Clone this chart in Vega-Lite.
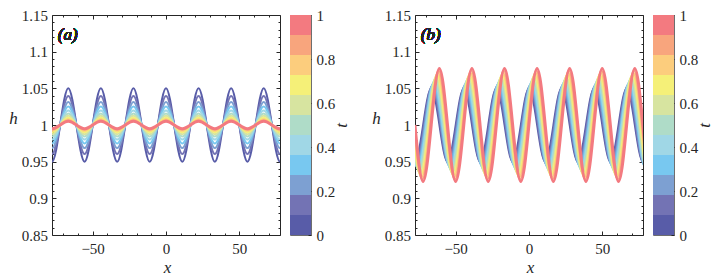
{
  "$schema": "https://vega.github.io/schema/vega-lite/v6.json",
  "padding": {"left": 8, "top": 7, "right": 5, "bottom": 5},
  "config": {
    "font": "Liberation Serif",
    "view": {"stroke": null},
    "axis": {
      "labelFont": "Liberation Serif", "labelFontSize": 15, "labelColor": "#262626",
      "titleFont": "Liberation Serif", "titleFontStyle": "italic", "titleFontWeight": "normal",
      "titleFontSize": 17, "titleColor": "#262626",
      "tickColor": "#262626", "tickWidth": 1, "domainColor": "#262626", "domainWidth": 1,
      "grid": false, "zindex": 1, "labelOverlap": false, "labelFlush": false
    }
  },
  "datasets": {
    "a": [
      {"t":0,"x":-83.25,"h":1},{"t":0,"x":-77.7,"h":0.95},{"t":0,"x":-72.15,"h":1},{"t":0,"x":-66.6,"h":1.05},{"t":0,"x":-61.05,"h":1},{"t":0,"x":-55.5,"h":0.95},{"t":0,"x":-49.95,"h":1},{"t":0,"x":-44.4,"h":1.05},{"t":0,"x":-38.85,"h":1},{"t":0,"x":-33.3,"h":0.95},{"t":0,"x":-27.75,"h":1},{"t":0,"x":-22.2,"h":1.05},{"t":0,"x":-16.65,"h":1},{"t":0,"x":-11.1,"h":0.95},{"t":0,"x":-5.55,"h":1},{"t":0,"x":0,"h":1.05},{"t":0,"x":5.55,"h":1},{"t":0,"x":11.1,"h":0.95},{"t":0,"x":16.65,"h":1},{"t":0,"x":22.2,"h":1.05},{"t":0,"x":27.75,"h":1},{"t":0,"x":33.3,"h":0.95},{"t":0,"x":38.85,"h":1},{"t":0,"x":44.4,"h":1.05},{"t":0,"x":49.95,"h":1},{"t":0,"x":55.5,"h":0.95},{"t":0,"x":61.05,"h":1},{"t":0,"x":66.6,"h":1.05},{"t":0,"x":72.15,"h":1},{"t":0,"x":77.7,"h":0.95},{"t":0,"x":83.25,"h":1},
      {"t":0.1,"x":-83.25,"h":1},{"t":0.1,"x":-77.7,"h":0.9603},{"t":0.1,"x":-72.15,"h":1},{"t":0.1,"x":-66.6,"h":1.0397},{"t":0.1,"x":-61.05,"h":1},{"t":0.1,"x":-55.5,"h":0.9603},{"t":0.1,"x":-49.95,"h":1},{"t":0.1,"x":-44.4,"h":1.0397},{"t":0.1,"x":-38.85,"h":1},{"t":0.1,"x":-33.3,"h":0.9603},{"t":0.1,"x":-27.75,"h":1},{"t":0.1,"x":-22.2,"h":1.0397},{"t":0.1,"x":-16.65,"h":1},{"t":0.1,"x":-11.1,"h":0.9603},{"t":0.1,"x":-5.55,"h":1},{"t":0.1,"x":0,"h":1.0397},{"t":0.1,"x":5.55,"h":1},{"t":0.1,"x":11.1,"h":0.9603},{"t":0.1,"x":16.65,"h":1},{"t":0.1,"x":22.2,"h":1.0397},{"t":0.1,"x":27.75,"h":1},{"t":0.1,"x":33.3,"h":0.9603},{"t":0.1,"x":38.85,"h":1},{"t":0.1,"x":44.4,"h":1.0397},{"t":0.1,"x":49.95,"h":1},{"t":0.1,"x":55.5,"h":0.9603},{"t":0.1,"x":61.05,"h":1},{"t":0.1,"x":66.6,"h":1.0397},{"t":0.1,"x":72.15,"h":1},{"t":0.1,"x":77.7,"h":0.9603},{"t":0.1,"x":83.25,"h":1},
      {"t":0.2,"x":-83.25,"h":1},{"t":0.2,"x":-77.7,"h":0.9685},{"t":0.2,"x":-72.15,"h":1},{"t":0.2,"x":-66.6,"h":1.0315},{"t":0.2,"x":-61.05,"h":1},{"t":0.2,"x":-55.5,"h":0.9685},{"t":0.2,"x":-49.95,"h":1},{"t":0.2,"x":-44.4,"h":1.0315},{"t":0.2,"x":-38.85,"h":1},{"t":0.2,"x":-33.3,"h":0.9685},{"t":0.2,"x":-27.75,"h":1},{"t":0.2,"x":-22.2,"h":1.0315},{"t":0.2,"x":-16.65,"h":1},{"t":0.2,"x":-11.1,"h":0.9685},{"t":0.2,"x":-5.55,"h":1},{"t":0.2,"x":0,"h":1.0315},{"t":0.2,"x":5.55,"h":1},{"t":0.2,"x":11.1,"h":0.9685},{"t":0.2,"x":16.65,"h":1},{"t":0.2,"x":22.2,"h":1.0315},{"t":0.2,"x":27.75,"h":1},{"t":0.2,"x":33.3,"h":0.9685},{"t":0.2,"x":38.85,"h":1},{"t":0.2,"x":44.4,"h":1.0315},{"t":0.2,"x":49.95,"h":1},{"t":0.2,"x":55.5,"h":0.9685},{"t":0.2,"x":61.05,"h":1},{"t":0.2,"x":66.6,"h":1.0315},{"t":0.2,"x":72.15,"h":1},{"t":0.2,"x":77.7,"h":0.9685},{"t":0.2,"x":83.25,"h":1},
      {"t":0.3,"x":-83.25,"h":1},{"t":0.3,"x":-77.7,"h":0.9749},{"t":0.3,"x":-72.15,"h":1},{"t":0.3,"x":-66.6,"h":1.0251},{"t":0.3,"x":-61.05,"h":1},{"t":0.3,"x":-55.5,"h":0.9749},{"t":0.3,"x":-49.95,"h":1},{"t":0.3,"x":-44.4,"h":1.0251},{"t":0.3,"x":-38.85,"h":1},{"t":0.3,"x":-33.3,"h":0.9749},{"t":0.3,"x":-27.75,"h":1},{"t":0.3,"x":-22.2,"h":1.0251},{"t":0.3,"x":-16.65,"h":1},{"t":0.3,"x":-11.1,"h":0.9749},{"t":0.3,"x":-5.55,"h":1},{"t":0.3,"x":0,"h":1.0251},{"t":0.3,"x":5.55,"h":1},{"t":0.3,"x":11.1,"h":0.9749},{"t":0.3,"x":16.65,"h":1},{"t":0.3,"x":22.2,"h":1.0251},{"t":0.3,"x":27.75,"h":1},{"t":0.3,"x":33.3,"h":0.9749},{"t":0.3,"x":38.85,"h":1},{"t":0.3,"x":44.4,"h":1.0251},{"t":0.3,"x":49.95,"h":1},{"t":0.3,"x":55.5,"h":0.9749},{"t":0.3,"x":61.05,"h":1},{"t":0.3,"x":66.6,"h":1.0251},{"t":0.3,"x":72.15,"h":1},{"t":0.3,"x":77.7,"h":0.9749},{"t":0.3,"x":83.25,"h":1},
      {"t":0.4,"x":-83.25,"h":1},{"t":0.4,"x":-77.7,"h":0.9801},{"t":0.4,"x":-72.15,"h":1},{"t":0.4,"x":-66.6,"h":1.0199},{"t":0.4,"x":-61.05,"h":1},{"t":0.4,"x":-55.5,"h":0.9801},{"t":0.4,"x":-49.95,"h":1},{"t":0.4,"x":-44.4,"h":1.0199},{"t":0.4,"x":-38.85,"h":1},{"t":0.4,"x":-33.3,"h":0.9801},{"t":0.4,"x":-27.75,"h":1},{"t":0.4,"x":-22.2,"h":1.0199},{"t":0.4,"x":-16.65,"h":1},{"t":0.4,"x":-11.1,"h":0.9801},{"t":0.4,"x":-5.55,"h":1},{"t":0.4,"x":0,"h":1.0199},{"t":0.4,"x":5.55,"h":1},{"t":0.4,"x":11.1,"h":0.9801},{"t":0.4,"x":16.65,"h":1},{"t":0.4,"x":22.2,"h":1.0199},{"t":0.4,"x":27.75,"h":1},{"t":0.4,"x":33.3,"h":0.9801},{"t":0.4,"x":38.85,"h":1},{"t":0.4,"x":44.4,"h":1.0199},{"t":0.4,"x":49.95,"h":1},{"t":0.4,"x":55.5,"h":0.9801},{"t":0.4,"x":61.05,"h":1},{"t":0.4,"x":66.6,"h":1.0199},{"t":0.4,"x":72.15,"h":1},{"t":0.4,"x":77.7,"h":0.9801},{"t":0.4,"x":83.25,"h":1},
      {"t":0.5,"x":-83.25,"h":1},{"t":0.5,"x":-77.7,"h":0.9842},{"t":0.5,"x":-72.15,"h":1},{"t":0.5,"x":-66.6,"h":1.0158},{"t":0.5,"x":-61.05,"h":1},{"t":0.5,"x":-55.5,"h":0.9842},{"t":0.5,"x":-49.95,"h":1},{"t":0.5,"x":-44.4,"h":1.0158},{"t":0.5,"x":-38.85,"h":1},{"t":0.5,"x":-33.3,"h":0.9842},{"t":0.5,"x":-27.75,"h":1},{"t":0.5,"x":-22.2,"h":1.0158},{"t":0.5,"x":-16.65,"h":1},{"t":0.5,"x":-11.1,"h":0.9842},{"t":0.5,"x":-5.55,"h":1},{"t":0.5,"x":0,"h":1.0158},{"t":0.5,"x":5.55,"h":1},{"t":0.5,"x":11.1,"h":0.9842},{"t":0.5,"x":16.65,"h":1},{"t":0.5,"x":22.2,"h":1.0158},{"t":0.5,"x":27.75,"h":1},{"t":0.5,"x":33.3,"h":0.9842},{"t":0.5,"x":38.85,"h":1},{"t":0.5,"x":44.4,"h":1.0158},{"t":0.5,"x":49.95,"h":1},{"t":0.5,"x":55.5,"h":0.9842},{"t":0.5,"x":61.05,"h":1},{"t":0.5,"x":66.6,"h":1.0158},{"t":0.5,"x":72.15,"h":1},{"t":0.5,"x":77.7,"h":0.9842},{"t":0.5,"x":83.25,"h":1},
      {"t":0.6,"x":-83.25,"h":1},{"t":0.6,"x":-77.7,"h":0.9874},{"t":0.6,"x":-72.15,"h":1},{"t":0.6,"x":-66.6,"h":1.0126},{"t":0.6,"x":-61.05,"h":1},{"t":0.6,"x":-55.5,"h":0.9874},{"t":0.6,"x":-49.95,"h":1},{"t":0.6,"x":-44.4,"h":1.0126},{"t":0.6,"x":-38.85,"h":1},{"t":0.6,"x":-33.3,"h":0.9874},{"t":0.6,"x":-27.75,"h":1},{"t":0.6,"x":-22.2,"h":1.0126},{"t":0.6,"x":-16.65,"h":1},{"t":0.6,"x":-11.1,"h":0.9874},{"t":0.6,"x":-5.55,"h":1},{"t":0.6,"x":0,"h":1.0126},{"t":0.6,"x":5.55,"h":1},{"t":0.6,"x":11.1,"h":0.9874},{"t":0.6,"x":16.65,"h":1},{"t":0.6,"x":22.2,"h":1.0126},{"t":0.6,"x":27.75,"h":1},{"t":0.6,"x":33.3,"h":0.9874},{"t":0.6,"x":38.85,"h":1},{"t":0.6,"x":44.4,"h":1.0126},{"t":0.6,"x":49.95,"h":1},{"t":0.6,"x":55.5,"h":0.9874},{"t":0.6,"x":61.05,"h":1},{"t":0.6,"x":66.6,"h":1.0126},{"t":0.6,"x":72.15,"h":1},{"t":0.6,"x":77.7,"h":0.9874},{"t":0.6,"x":83.25,"h":1},
      {"t":0.7,"x":-83.25,"h":1},{"t":0.7,"x":-77.7,"h":0.99},{"t":0.7,"x":-72.15,"h":1},{"t":0.7,"x":-66.6,"h":1.01},{"t":0.7,"x":-61.05,"h":1},{"t":0.7,"x":-55.5,"h":0.99},{"t":0.7,"x":-49.95,"h":1},{"t":0.7,"x":-44.4,"h":1.01},{"t":0.7,"x":-38.85,"h":1},{"t":0.7,"x":-33.3,"h":0.99},{"t":0.7,"x":-27.75,"h":1},{"t":0.7,"x":-22.2,"h":1.01},{"t":0.7,"x":-16.65,"h":1},{"t":0.7,"x":-11.1,"h":0.99},{"t":0.7,"x":-5.55,"h":1},{"t":0.7,"x":0,"h":1.01},{"t":0.7,"x":5.55,"h":1},{"t":0.7,"x":11.1,"h":0.99},{"t":0.7,"x":16.65,"h":1},{"t":0.7,"x":22.2,"h":1.01},{"t":0.7,"x":27.75,"h":1},{"t":0.7,"x":33.3,"h":0.99},{"t":0.7,"x":38.85,"h":1},{"t":0.7,"x":44.4,"h":1.01},{"t":0.7,"x":49.95,"h":1},{"t":0.7,"x":55.5,"h":0.99},{"t":0.7,"x":61.05,"h":1},{"t":0.7,"x":66.6,"h":1.01},{"t":0.7,"x":72.15,"h":1},{"t":0.7,"x":77.7,"h":0.99},{"t":0.7,"x":83.25,"h":1},
      {"t":0.8,"x":-83.25,"h":1},{"t":0.8,"x":-77.7,"h":0.9921},{"t":0.8,"x":-72.15,"h":1},{"t":0.8,"x":-66.6,"h":1.0079},{"t":0.8,"x":-61.05,"h":1},{"t":0.8,"x":-55.5,"h":0.9921},{"t":0.8,"x":-49.95,"h":1},{"t":0.8,"x":-44.4,"h":1.0079},{"t":0.8,"x":-38.85,"h":1},{"t":0.8,"x":-33.3,"h":0.9921},{"t":0.8,"x":-27.75,"h":1},{"t":0.8,"x":-22.2,"h":1.0079},{"t":0.8,"x":-16.65,"h":1},{"t":0.8,"x":-11.1,"h":0.9921},{"t":0.8,"x":-5.55,"h":1},{"t":0.8,"x":0,"h":1.0079},{"t":0.8,"x":5.55,"h":1},{"t":0.8,"x":11.1,"h":0.9921},{"t":0.8,"x":16.65,"h":1},{"t":0.8,"x":22.2,"h":1.0079},{"t":0.8,"x":27.75,"h":1},{"t":0.8,"x":33.3,"h":0.9921},{"t":0.8,"x":38.85,"h":1},{"t":0.8,"x":44.4,"h":1.0079},{"t":0.8,"x":49.95,"h":1},{"t":0.8,"x":55.5,"h":0.9921},{"t":0.8,"x":61.05,"h":1},{"t":0.8,"x":66.6,"h":1.0079},{"t":0.8,"x":72.15,"h":1},{"t":0.8,"x":77.7,"h":0.9921},{"t":0.8,"x":83.25,"h":1},
      {"t":0.9,"x":-83.25,"h":1},{"t":0.9,"x":-77.7,"h":0.9937},{"t":0.9,"x":-72.15,"h":1},{"t":0.9,"x":-66.6,"h":1.0063},{"t":0.9,"x":-61.05,"h":1},{"t":0.9,"x":-55.5,"h":0.9937},{"t":0.9,"x":-49.95,"h":1},{"t":0.9,"x":-44.4,"h":1.0063},{"t":0.9,"x":-38.85,"h":1},{"t":0.9,"x":-33.3,"h":0.9937},{"t":0.9,"x":-27.75,"h":1},{"t":0.9,"x":-22.2,"h":1.0063},{"t":0.9,"x":-16.65,"h":1},{"t":0.9,"x":-11.1,"h":0.9937},{"t":0.9,"x":-5.55,"h":1},{"t":0.9,"x":0,"h":1.0063},{"t":0.9,"x":5.55,"h":1},{"t":0.9,"x":11.1,"h":0.9937},{"t":0.9,"x":16.65,"h":1},{"t":0.9,"x":22.2,"h":1.0063},{"t":0.9,"x":27.75,"h":1},{"t":0.9,"x":33.3,"h":0.9937},{"t":0.9,"x":38.85,"h":1},{"t":0.9,"x":44.4,"h":1.0063},{"t":0.9,"x":49.95,"h":1},{"t":0.9,"x":55.5,"h":0.9937},{"t":0.9,"x":61.05,"h":1},{"t":0.9,"x":66.6,"h":1.0063},{"t":0.9,"x":72.15,"h":1},{"t":0.9,"x":77.7,"h":0.9937},{"t":0.9,"x":83.25,"h":1},
      {"t":1,"x":-83.25,"h":1},{"t":1,"x":-77.7,"h":0.995},{"t":1,"x":-72.15,"h":1},{"t":1,"x":-66.6,"h":1.005},{"t":1,"x":-61.05,"h":1},{"t":1,"x":-55.5,"h":0.995},{"t":1,"x":-49.95,"h":1},{"t":1,"x":-44.4,"h":1.005},{"t":1,"x":-38.85,"h":1},{"t":1,"x":-33.3,"h":0.995},{"t":1,"x":-27.75,"h":1},{"t":1,"x":-22.2,"h":1.005},{"t":1,"x":-16.65,"h":1},{"t":1,"x":-11.1,"h":0.995},{"t":1,"x":-5.55,"h":1},{"t":1,"x":0,"h":1.005},{"t":1,"x":5.55,"h":1},{"t":1,"x":11.1,"h":0.995},{"t":1,"x":16.65,"h":1},{"t":1,"x":22.2,"h":1.005},{"t":1,"x":27.75,"h":1},{"t":1,"x":33.3,"h":0.995},{"t":1,"x":38.85,"h":1},{"t":1,"x":44.4,"h":1.005},{"t":1,"x":49.95,"h":1},{"t":1,"x":55.5,"h":0.995},{"t":1,"x":61.05,"h":1},{"t":1,"x":66.6,"h":1.005},{"t":1,"x":72.15,"h":1},{"t":1,"x":77.7,"h":0.995},{"t":1,"x":83.25,"h":1}
    ],
    "b": [
      {"t":0,"x":-83.25,"h":1},{"t":0,"x":-77.7,"h":0.95},{"t":0,"x":-72.15,"h":1},{"t":0,"x":-66.6,"h":1.05},{"t":0,"x":-61.05,"h":1},{"t":0,"x":-55.5,"h":0.95},{"t":0,"x":-49.95,"h":1},{"t":0,"x":-44.4,"h":1.05},{"t":0,"x":-38.85,"h":1},{"t":0,"x":-33.3,"h":0.95},{"t":0,"x":-27.75,"h":1},{"t":0,"x":-22.2,"h":1.05},{"t":0,"x":-16.65,"h":1},{"t":0,"x":-11.1,"h":0.95},{"t":0,"x":-5.55,"h":1},{"t":0,"x":0,"h":1.05},{"t":0,"x":5.55,"h":1},{"t":0,"x":11.1,"h":0.95},{"t":0,"x":16.65,"h":1},{"t":0,"x":22.2,"h":1.05},{"t":0,"x":27.75,"h":1},{"t":0,"x":33.3,"h":0.95},{"t":0,"x":38.85,"h":1},{"t":0,"x":44.4,"h":1.05},{"t":0,"x":49.95,"h":1},{"t":0,"x":55.5,"h":0.95},{"t":0,"x":61.05,"h":1},{"t":0,"x":66.6,"h":1.05},{"t":0,"x":72.15,"h":1},{"t":0,"x":77.7,"h":0.95},{"t":0,"x":83.25,"h":1},
      {"t":0.1,"x":-82.7,"h":1},{"t":0.1,"x":-77.15,"h":0.9473},{"t":0.1,"x":-71.6,"h":1},{"t":0.1,"x":-66.05,"h":1.0527},{"t":0.1,"x":-60.5,"h":1},{"t":0.1,"x":-54.95,"h":0.9473},{"t":0.1,"x":-49.4,"h":1},{"t":0.1,"x":-43.85,"h":1.0527},{"t":0.1,"x":-38.3,"h":1},{"t":0.1,"x":-32.75,"h":0.9473},{"t":0.1,"x":-27.2,"h":1},{"t":0.1,"x":-21.65,"h":1.0527},{"t":0.1,"x":-16.1,"h":1},{"t":0.1,"x":-10.55,"h":0.9473},{"t":0.1,"x":-5,"h":1},{"t":0.1,"x":0.55,"h":1.0527},{"t":0.1,"x":6.1,"h":1},{"t":0.1,"x":11.65,"h":0.9473},{"t":0.1,"x":17.2,"h":1},{"t":0.1,"x":22.75,"h":1.0527},{"t":0.1,"x":28.3,"h":1},{"t":0.1,"x":33.85,"h":0.9473},{"t":0.1,"x":39.4,"h":1},{"t":0.1,"x":44.95,"h":1.0527},{"t":0.1,"x":50.5,"h":1},{"t":0.1,"x":56.05,"h":0.9473},{"t":0.1,"x":61.6,"h":1},{"t":0.1,"x":67.15,"h":1.0527},{"t":0.1,"x":72.7,"h":1},{"t":0.1,"x":78.25,"h":0.9473},{"t":0.1,"x":83.8,"h":1},
      {"t":0.2,"x":-82.15,"h":1},{"t":0.2,"x":-76.6,"h":0.9446},{"t":0.2,"x":-71.05,"h":1},{"t":0.2,"x":-65.5,"h":1.0554},{"t":0.2,"x":-59.95,"h":1},{"t":0.2,"x":-54.4,"h":0.9446},{"t":0.2,"x":-48.85,"h":1},{"t":0.2,"x":-43.3,"h":1.0554},{"t":0.2,"x":-37.75,"h":1},{"t":0.2,"x":-32.2,"h":0.9446},{"t":0.2,"x":-26.65,"h":1},{"t":0.2,"x":-21.1,"h":1.0554},{"t":0.2,"x":-15.55,"h":1},{"t":0.2,"x":-10,"h":0.9446},{"t":0.2,"x":-4.45,"h":1},{"t":0.2,"x":1.1,"h":1.0554},{"t":0.2,"x":6.65,"h":1},{"t":0.2,"x":12.2,"h":0.9446},{"t":0.2,"x":17.75,"h":1},{"t":0.2,"x":23.3,"h":1.0554},{"t":0.2,"x":28.85,"h":1},{"t":0.2,"x":34.4,"h":0.9446},{"t":0.2,"x":39.95,"h":1},{"t":0.2,"x":45.5,"h":1.0554},{"t":0.2,"x":51.05,"h":1},{"t":0.2,"x":56.6,"h":0.9446},{"t":0.2,"x":62.15,"h":1},{"t":0.2,"x":67.7,"h":1.0554},{"t":0.2,"x":73.25,"h":1},{"t":0.2,"x":78.8,"h":0.9446},{"t":0.2,"x":84.35,"h":1},
      {"t":0.3,"x":-81.6,"h":1},{"t":0.3,"x":-76.05,"h":0.9419},{"t":0.3,"x":-70.5,"h":1},{"t":0.3,"x":-64.95,"h":1.0581},{"t":0.3,"x":-59.4,"h":1},{"t":0.3,"x":-53.85,"h":0.9419},{"t":0.3,"x":-48.3,"h":1},{"t":0.3,"x":-42.75,"h":1.0581},{"t":0.3,"x":-37.2,"h":1},{"t":0.3,"x":-31.65,"h":0.9419},{"t":0.3,"x":-26.1,"h":1},{"t":0.3,"x":-20.55,"h":1.0581},{"t":0.3,"x":-15,"h":1},{"t":0.3,"x":-9.45,"h":0.9419},{"t":0.3,"x":-3.9,"h":1},{"t":0.3,"x":1.65,"h":1.0581},{"t":0.3,"x":7.2,"h":1},{"t":0.3,"x":12.75,"h":0.9419},{"t":0.3,"x":18.3,"h":1},{"t":0.3,"x":23.85,"h":1.0581},{"t":0.3,"x":29.4,"h":1},{"t":0.3,"x":34.95,"h":0.9419},{"t":0.3,"x":40.5,"h":1},{"t":0.3,"x":46.05,"h":1.0581},{"t":0.3,"x":51.6,"h":1},{"t":0.3,"x":57.15,"h":0.9419},{"t":0.3,"x":62.7,"h":1},{"t":0.3,"x":68.25,"h":1.0581},{"t":0.3,"x":73.8,"h":1},{"t":0.3,"x":79.35,"h":0.9419},{"t":0.3,"x":84.9,"h":1},
      {"t":0.4,"x":-81.05,"h":1},{"t":0.4,"x":-75.5,"h":0.9392},{"t":0.4,"x":-69.95,"h":1},{"t":0.4,"x":-64.4,"h":1.0608},{"t":0.4,"x":-58.85,"h":1},{"t":0.4,"x":-53.3,"h":0.9392},{"t":0.4,"x":-47.75,"h":1},{"t":0.4,"x":-42.2,"h":1.0608},{"t":0.4,"x":-36.65,"h":1},{"t":0.4,"x":-31.1,"h":0.9392},{"t":0.4,"x":-25.55,"h":1},{"t":0.4,"x":-20,"h":1.0608},{"t":0.4,"x":-14.45,"h":1},{"t":0.4,"x":-8.9,"h":0.9392},{"t":0.4,"x":-3.35,"h":1},{"t":0.4,"x":2.2,"h":1.0608},{"t":0.4,"x":7.75,"h":1},{"t":0.4,"x":13.3,"h":0.9392},{"t":0.4,"x":18.85,"h":1},{"t":0.4,"x":24.4,"h":1.0608},{"t":0.4,"x":29.95,"h":1},{"t":0.4,"x":35.5,"h":0.9392},{"t":0.4,"x":41.05,"h":1},{"t":0.4,"x":46.6,"h":1.0608},{"t":0.4,"x":52.15,"h":1},{"t":0.4,"x":57.7,"h":0.9392},{"t":0.4,"x":63.25,"h":1},{"t":0.4,"x":68.8,"h":1.0608},{"t":0.4,"x":74.35,"h":1},{"t":0.4,"x":79.9,"h":0.9392},{"t":0.4,"x":85.45,"h":1},
      {"t":0.5,"x":-80.5,"h":1},{"t":0.5,"x":-74.95,"h":0.9365},{"t":0.5,"x":-69.4,"h":1},{"t":0.5,"x":-63.85,"h":1.0635},{"t":0.5,"x":-58.3,"h":1},{"t":0.5,"x":-52.75,"h":0.9365},{"t":0.5,"x":-47.2,"h":1},{"t":0.5,"x":-41.65,"h":1.0635},{"t":0.5,"x":-36.1,"h":1},{"t":0.5,"x":-30.55,"h":0.9365},{"t":0.5,"x":-25,"h":1},{"t":0.5,"x":-19.45,"h":1.0635},{"t":0.5,"x":-13.9,"h":1},{"t":0.5,"x":-8.35,"h":0.9365},{"t":0.5,"x":-2.8,"h":1},{"t":0.5,"x":2.75,"h":1.0635},{"t":0.5,"x":8.3,"h":1},{"t":0.5,"x":13.85,"h":0.9365},{"t":0.5,"x":19.4,"h":1},{"t":0.5,"x":24.95,"h":1.0635},{"t":0.5,"x":30.5,"h":1},{"t":0.5,"x":36.05,"h":0.9365},{"t":0.5,"x":41.6,"h":1},{"t":0.5,"x":47.15,"h":1.0635},{"t":0.5,"x":52.7,"h":1},{"t":0.5,"x":58.25,"h":0.9365},{"t":0.5,"x":63.8,"h":1},{"t":0.5,"x":69.35,"h":1.0635},{"t":0.5,"x":74.9,"h":1},{"t":0.5,"x":80.45,"h":0.9365},{"t":0.5,"x":86,"h":1},
      {"t":0.6,"x":-79.95,"h":1},{"t":0.6,"x":-74.4,"h":0.9338},{"t":0.6,"x":-68.85,"h":1},{"t":0.6,"x":-63.3,"h":1.0662},{"t":0.6,"x":-57.75,"h":1},{"t":0.6,"x":-52.2,"h":0.9338},{"t":0.6,"x":-46.65,"h":1},{"t":0.6,"x":-41.1,"h":1.0662},{"t":0.6,"x":-35.55,"h":1},{"t":0.6,"x":-30,"h":0.9338},{"t":0.6,"x":-24.45,"h":1},{"t":0.6,"x":-18.9,"h":1.0662},{"t":0.6,"x":-13.35,"h":1},{"t":0.6,"x":-7.8,"h":0.9338},{"t":0.6,"x":-2.25,"h":1},{"t":0.6,"x":3.3,"h":1.0662},{"t":0.6,"x":8.85,"h":1},{"t":0.6,"x":14.4,"h":0.9338},{"t":0.6,"x":19.95,"h":1},{"t":0.6,"x":25.5,"h":1.0662},{"t":0.6,"x":31.05,"h":1},{"t":0.6,"x":36.6,"h":0.9338},{"t":0.6,"x":42.15,"h":1},{"t":0.6,"x":47.7,"h":1.0662},{"t":0.6,"x":53.25,"h":1},{"t":0.6,"x":58.8,"h":0.9338},{"t":0.6,"x":64.35,"h":1},{"t":0.6,"x":69.9,"h":1.0662},{"t":0.6,"x":75.45,"h":1},{"t":0.6,"x":81,"h":0.9338},{"t":0.6,"x":86.55,"h":1},
      {"t":0.7,"x":-79.4,"h":1},{"t":0.7,"x":-73.85,"h":0.9311},{"t":0.7,"x":-68.3,"h":1},{"t":0.7,"x":-62.75,"h":1.0689},{"t":0.7,"x":-57.2,"h":1},{"t":0.7,"x":-51.65,"h":0.9311},{"t":0.7,"x":-46.1,"h":1},{"t":0.7,"x":-40.55,"h":1.0689},{"t":0.7,"x":-35,"h":1},{"t":0.7,"x":-29.45,"h":0.9311},{"t":0.7,"x":-23.9,"h":1},{"t":0.7,"x":-18.35,"h":1.0689},{"t":0.7,"x":-12.8,"h":1},{"t":0.7,"x":-7.25,"h":0.9311},{"t":0.7,"x":-1.7,"h":1},{"t":0.7,"x":3.85,"h":1.0689},{"t":0.7,"x":9.4,"h":1},{"t":0.7,"x":14.95,"h":0.9311},{"t":0.7,"x":20.5,"h":1},{"t":0.7,"x":26.05,"h":1.0689},{"t":0.7,"x":31.6,"h":1},{"t":0.7,"x":37.15,"h":0.9311},{"t":0.7,"x":42.7,"h":1},{"t":0.7,"x":48.25,"h":1.0689},{"t":0.7,"x":53.8,"h":1},{"t":0.7,"x":59.35,"h":0.9311},{"t":0.7,"x":64.9,"h":1},{"t":0.7,"x":70.45,"h":1.0689},{"t":0.7,"x":76,"h":1},{"t":0.7,"x":81.55,"h":0.9311},{"t":0.7,"x":87.1,"h":1},
      {"t":0.8,"x":-78.85,"h":1},{"t":0.8,"x":-73.3,"h":0.9284},{"t":0.8,"x":-67.75,"h":1},{"t":0.8,"x":-62.2,"h":1.0716},{"t":0.8,"x":-56.65,"h":1},{"t":0.8,"x":-51.1,"h":0.9284},{"t":0.8,"x":-45.55,"h":1},{"t":0.8,"x":-40,"h":1.0716},{"t":0.8,"x":-34.45,"h":1},{"t":0.8,"x":-28.9,"h":0.9284},{"t":0.8,"x":-23.35,"h":1},{"t":0.8,"x":-17.8,"h":1.0716},{"t":0.8,"x":-12.25,"h":1},{"t":0.8,"x":-6.7,"h":0.9284},{"t":0.8,"x":-1.15,"h":1},{"t":0.8,"x":4.4,"h":1.0716},{"t":0.8,"x":9.95,"h":1},{"t":0.8,"x":15.5,"h":0.9284},{"t":0.8,"x":21.05,"h":1},{"t":0.8,"x":26.6,"h":1.0716},{"t":0.8,"x":32.15,"h":1},{"t":0.8,"x":37.7,"h":0.9284},{"t":0.8,"x":43.25,"h":1},{"t":0.8,"x":48.8,"h":1.0716},{"t":0.8,"x":54.35,"h":1},{"t":0.8,"x":59.9,"h":0.9284},{"t":0.8,"x":65.45,"h":1},{"t":0.8,"x":71,"h":1.0716},{"t":0.8,"x":76.55,"h":1},{"t":0.8,"x":82.1,"h":0.9284},{"t":0.8,"x":87.65,"h":1},
      {"t":0.9,"x":-78.3,"h":1},{"t":0.9,"x":-72.75,"h":0.9257},{"t":0.9,"x":-67.2,"h":1},{"t":0.9,"x":-61.65,"h":1.0743},{"t":0.9,"x":-56.1,"h":1},{"t":0.9,"x":-50.55,"h":0.9257},{"t":0.9,"x":-45,"h":1},{"t":0.9,"x":-39.45,"h":1.0743},{"t":0.9,"x":-33.9,"h":1},{"t":0.9,"x":-28.35,"h":0.9257},{"t":0.9,"x":-22.8,"h":1},{"t":0.9,"x":-17.25,"h":1.0743},{"t":0.9,"x":-11.7,"h":1},{"t":0.9,"x":-6.15,"h":0.9257},{"t":0.9,"x":-0.6,"h":1},{"t":0.9,"x":4.95,"h":1.0743},{"t":0.9,"x":10.5,"h":1},{"t":0.9,"x":16.05,"h":0.9257},{"t":0.9,"x":21.6,"h":1},{"t":0.9,"x":27.15,"h":1.0743},{"t":0.9,"x":32.7,"h":1},{"t":0.9,"x":38.25,"h":0.9257},{"t":0.9,"x":43.8,"h":1},{"t":0.9,"x":49.35,"h":1.0743},{"t":0.9,"x":54.9,"h":1},{"t":0.9,"x":60.45,"h":0.9257},{"t":0.9,"x":66,"h":1},{"t":0.9,"x":71.55,"h":1.0743},{"t":0.9,"x":77.1,"h":1},{"t":0.9,"x":82.65,"h":0.9257},{"t":0.9,"x":88.2,"h":1},
      {"t":1,"x":-77.75,"h":1},{"t":1,"x":-72.2,"h":0.923},{"t":1,"x":-66.65,"h":1},{"t":1,"x":-61.1,"h":1.077},{"t":1,"x":-55.55,"h":1},{"t":1,"x":-50,"h":0.923},{"t":1,"x":-44.45,"h":1},{"t":1,"x":-38.9,"h":1.077},{"t":1,"x":-33.35,"h":1},{"t":1,"x":-27.8,"h":0.923},{"t":1,"x":-22.25,"h":1},{"t":1,"x":-16.7,"h":1.077},{"t":1,"x":-11.15,"h":1},{"t":1,"x":-5.6,"h":0.923},{"t":1,"x":-0.05,"h":1},{"t":1,"x":5.5,"h":1.077},{"t":1,"x":11.05,"h":1},{"t":1,"x":16.6,"h":0.923},{"t":1,"x":22.15,"h":1},{"t":1,"x":27.7,"h":1.077},{"t":1,"x":33.25,"h":1},{"t":1,"x":38.8,"h":0.923},{"t":1,"x":44.35,"h":1},{"t":1,"x":49.9,"h":1.077},{"t":1,"x":55.45,"h":1},{"t":1,"x":61,"h":0.923},{"t":1,"x":66.55,"h":1},{"t":1,"x":72.1,"h":1.077},{"t":1,"x":77.65,"h":1},{"t":1,"x":83.2,"h":0.923},{"t":1,"x":88.75,"h":1}
    ],
    "bar": [
      {"t":0,"t0":0,"t1":0.0909},{"t":0.1,"t0":0.0909,"t1":0.1818},{"t":0.2,"t0":0.1818,"t1":0.2727},{"t":0.3,"t0":0.2727,"t1":0.3636},{"t":0.4,"t0":0.3636,"t1":0.4545},{"t":0.5,"t0":0.4545,"t1":0.5455},{"t":0.6,"t0":0.5455,"t1":0.6364},{"t":0.7,"t0":0.6364,"t1":0.7273},{"t":0.8,"t0":0.7273,"t1":0.8182},{"t":0.9,"t0":0.8182,"t1":0.9091},{"t":1,"t0":0.9091,"t1":1}
    ]
  },
  "spacing": 21,
  "resolve": {"scale": {"x": "independent", "y": "independent", "color": "shared"}, "axis": {"x": "independent", "y": "independent"}},
  "hconcat": [
    {
      "bounds": "flush",
      "spacing": 10,
      "resolve": {"scale": {"x": "independent", "y": "independent", "color": "shared"}, "axis": {"x": "independent", "y": "independent"}},
      "hconcat": [
        {
          "width": 228, "height": 220,
          "data": {"name": "a"},
          "resolve": {"axis": {"x": "independent", "y": "independent"}},
          "layer": [
            {
              "mark": {"type": "line", "interpolate": "natural", "clip": true},
              "encoding": {
                "x": {"field": "x", "type": "quantitative", "scale": {"domain": [-77.7, 77.7], "nice": false, "zero": false},
                  "axis": {"orient": "bottom", "domain": true, "values": [-70,-60,-50,-40,-30,-20,-10,0,10,20,30,40,50,60,70],
                    "tickSize": {"condition": {"test": "datum.value % 50 == 0", "value": -4}, "value": -2},
                    "labelExpr": "datum.value % 50 == 0 ? datum.label : ''", "labelPadding": 10.5, "labelBaseline": "top",
                    "title": "x", "titleX": 115, "titleY": 37.5, "titleBaseline": "alphabetic"}},
                "y": {"field": "h", "type": "quantitative", "scale": {"domain": [0.85, 1.15], "nice": false, "zero": false},
                  "axis": {"orient": "left", "domain": true, "format": ".2~f",
                    "values": [0.85,0.86,0.87,0.88,0.89,0.9,0.91,0.92,0.93,0.94,0.95,0.96,0.97,0.98,0.99,1,1.01,1.02,1.03,1.04,1.05,1.06,1.07,1.08,1.09,1.1,1.11,1.12,1.13,1.14,1.15],
                    "tickSize": {"condition": {"test": "round(datum.value*100) % 5 == 0", "value": -4}, "value": -2},
                    "labelExpr": "round(datum.value*100) % 5 == 0 ? datum.label : ''", "labelPadding": 8.5,
                    "title": "h", "titleAngle": 0, "titleX": -39, "titleY": 108, "titleAlign": "center", "titleBaseline": "alphabetic"}},
                "color": {"field": "t", "type": "quantitative", "legend": null,
                  "scale": {"type": "quantize", "domain": [0, 1], "range": ["#585ca8","#7373b4","#7da0d2","#78c8f0","#a0d7e6","#afdcc8","#d7e4a0","#f5f078","#fccd7d","#f8a57d","#f37a80"]}},
                "strokeWidth": {"condition": {"test": "datum.t == 1", "value": 3}, "value": 2}
              }
            },
            {
              "mark": {"type": "line", "strokeOpacity": 0},
              "encoding": {
                "x": {"field": "x", "type": "quantitative",
                  "axis": {"orient": "top", "domain": true, "labels": false, "title": null, "values": [-70,-60,-50,-40,-30,-20,-10,0,10,20,30,40,50,60,70],
                    "tickSize": {"condition": {"test": "datum.value % 50 == 0", "value": -4}, "value": -2}}},
                "y": {"field": "h", "type": "quantitative",
                  "axis": {"orient": "right", "domain": true, "labels": false, "title": null,
                    "values": [0.85,0.86,0.87,0.88,0.89,0.9,0.91,0.92,0.93,0.94,0.95,0.96,0.97,0.98,0.99,1,1.01,1.02,1.03,1.04,1.05,1.06,1.07,1.08,1.09,1.1,1.11,1.12,1.13,1.14,1.15],
                    "tickSize": {"condition": {"test": "round(datum.value*100) % 5 == 0", "value": -4}, "value": -2}}}
              }
            },
            {
              "mark": {"type": "text", "align": "left", "baseline": "middle", "fontStyle": "italic", "fontWeight": "normal", "fontSize": 17, "color": "#262626"},
              "encoding": {
                "x": {"datum": -73.8, "type": "quantitative", "axis": null},
                "y": {"datum": 1.123, "type": "quantitative", "axis": null},
                "text": {"value": "(a)"}
              }
            }
          ]
        },
        {
          "width": 21, "height": 220,
          "data": {"name": "bar"},
          "view": {"stroke": "#6e6e6e", "strokeWidth": 1},
          "mark": {"type": "rect"},
          "encoding": {
            "y": {"field": "t0", "type": "quantitative", "scale": {"domain": [0, 1], "nice": false, "zero": false},
              "axis": {"orient": "right", "domain": false, "values": [0, 0.2, 0.4, 0.6, 0.8, 1], "format": ".1~f", "tickSize": -3, "labelPadding": 8,
                "title": "t", "titleAngle": 270, "titleX": 30, "titleY": 110, "titleAlign": "center", "titleBaseline": "middle"}},
            "y2": {"field": "t1"},
            "color": {"field": "t", "type": "quantitative", "legend": null,
              "scale": {"type": "quantize", "domain": [0, 1], "range": ["#585ca8","#7373b4","#7da0d2","#78c8f0","#a0d7e6","#afdcc8","#d7e4a0","#f5f078","#fccd7d","#f8a57d","#f37a80"]}}
          }
        }
      ]
    },
    {
      "bounds": "flush",
      "spacing": 10,
      "resolve": {"scale": {"x": "independent", "y": "independent", "color": "shared"}, "axis": {"x": "independent", "y": "independent"}},
      "hconcat": [
        {
          "width": 228, "height": 220,
          "data": {"name": "b"},
          "resolve": {"axis": {"x": "independent", "y": "independent"}},
          "layer": [
            {
              "mark": {"type": "line", "interpolate": "natural", "clip": true},
              "encoding": {
                "x": {"field": "x", "type": "quantitative", "scale": {"domain": [-77.7, 77.7], "nice": false, "zero": false},
                  "axis": {"orient": "bottom", "domain": true, "values": [-70,-60,-50,-40,-30,-20,-10,0,10,20,30,40,50,60,70],
                    "tickSize": {"condition": {"test": "datum.value % 50 == 0", "value": -4}, "value": -2},
                    "labelExpr": "datum.value % 50 == 0 ? datum.label : ''", "labelPadding": 10.5, "labelBaseline": "top",
                    "title": "x", "titleX": 115, "titleY": 37.5, "titleBaseline": "alphabetic"}},
                "y": {"field": "h", "type": "quantitative", "scale": {"domain": [0.85, 1.15], "nice": false, "zero": false},
                  "axis": {"orient": "left", "domain": true, "format": ".2~f",
                    "values": [0.85,0.86,0.87,0.88,0.89,0.9,0.91,0.92,0.93,0.94,0.95,0.96,0.97,0.98,0.99,1,1.01,1.02,1.03,1.04,1.05,1.06,1.07,1.08,1.09,1.1,1.11,1.12,1.13,1.14,1.15],
                    "tickSize": {"condition": {"test": "round(datum.value*100) % 5 == 0", "value": -4}, "value": -2},
                    "labelExpr": "round(datum.value*100) % 5 == 0 ? datum.label : ''", "labelPadding": 8.5,
                    "title": "h", "titleAngle": 0, "titleX": -39, "titleY": 108, "titleAlign": "center", "titleBaseline": "alphabetic"}},
                "color": {"field": "t", "type": "quantitative", "legend": null,
                  "scale": {"type": "quantize", "domain": [0, 1], "range": ["#585ca8","#7373b4","#7da0d2","#78c8f0","#a0d7e6","#afdcc8","#d7e4a0","#f5f078","#fccd7d","#f8a57d","#f37a80"]}},
                "strokeWidth": {"condition": {"test": "datum.t == 1", "value": 3}, "value": 2}
              }
            },
            {
              "mark": {"type": "line", "strokeOpacity": 0},
              "encoding": {
                "x": {"field": "x", "type": "quantitative",
                  "axis": {"orient": "top", "domain": true, "labels": false, "title": null, "values": [-70,-60,-50,-40,-30,-20,-10,0,10,20,30,40,50,60,70],
                    "tickSize": {"condition": {"test": "datum.value % 50 == 0", "value": -4}, "value": -2}}},
                "y": {"field": "h", "type": "quantitative",
                  "axis": {"orient": "right", "domain": true, "labels": false, "title": null,
                    "values": [0.85,0.86,0.87,0.88,0.89,0.9,0.91,0.92,0.93,0.94,0.95,0.96,0.97,0.98,0.99,1,1.01,1.02,1.03,1.04,1.05,1.06,1.07,1.08,1.09,1.1,1.11,1.12,1.13,1.14,1.15],
                    "tickSize": {"condition": {"test": "round(datum.value*100) % 5 == 0", "value": -4}, "value": -2}}}
              }
            },
            {
              "mark": {"type": "text", "align": "left", "baseline": "middle", "fontStyle": "italic", "fontWeight": "normal", "fontSize": 17, "color": "#262626"},
              "encoding": {
                "x": {"datum": -73.8, "type": "quantitative", "axis": null},
                "y": {"datum": 1.123, "type": "quantitative", "axis": null},
                "text": {"value": "(b)"}
              }
            }
          ]
        },
        {
          "width": 21, "height": 220,
          "data": {"name": "bar"},
          "view": {"stroke": "#6e6e6e", "strokeWidth": 1},
          "mark": {"type": "rect"},
          "encoding": {
            "y": {"field": "t0", "type": "quantitative", "scale": {"domain": [0, 1], "nice": false, "zero": false},
              "axis": {"orient": "right", "domain": false, "values": [0, 0.2, 0.4, 0.6, 0.8, 1], "format": ".1~f", "tickSize": -3, "labelPadding": 8,
                "title": "t", "titleAngle": 270, "titleX": 30, "titleY": 110, "titleAlign": "center", "titleBaseline": "middle"}},
            "y2": {"field": "t1"},
            "color": {"field": "t", "type": "quantitative", "legend": null,
              "scale": {"type": "quantize", "domain": [0, 1], "range": ["#585ca8","#7373b4","#7da0d2","#78c8f0","#a0d7e6","#afdcc8","#d7e4a0","#f5f078","#fccd7d","#f8a57d","#f37a80"]}}
          }
        }
      ]
    }
  ]
}
